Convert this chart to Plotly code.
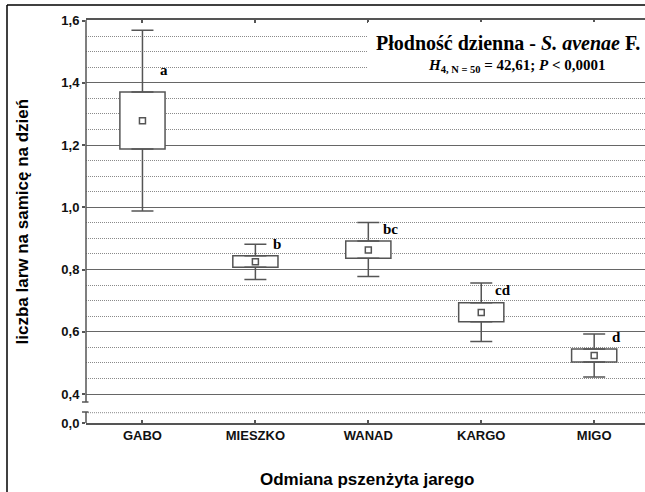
import plotly.graph_objects as go

# ---------------- data ----------------
categories = ["GABO", "MIESZKO", "WANAD", "KARGO", "MIGO"]
minimum = [0.988, 0.768, 0.778, 0.569, 0.455]
q1 = [1.187, 0.807, 0.836, 0.632, 0.503]
median = [1.278, 0.825, 0.863, 0.662, 0.524]
q3 = [1.370, 0.844, 0.892, 0.693, 0.545]
maximum = [1.569, 0.881, 0.951, 0.757, 0.593]
letters = ["a", "b", "bc", "cd", "d"]

ytick_vals = [0.307, 0.4, 0.6, 0.8, 1.0, 1.2, 1.4, 1.6]
ytick_text = ["0,0", "0,4", "0,6", "0,8", "1,0", "1,2", "1,4", "1,6"]
yminor_vals = [0.45, 0.5, 0.55, 0.65, 0.7, 0.75, 0.85, 0.9, 0.95,
               1.05, 1.1, 1.15, 1.25, 1.3, 1.35, 1.45, 1.5, 1.55]

# ---------------- style ----------------
W, H = 645, 492
L, R, T, B = 86, 0, 20, 69
PW, PH = W - L - R, H - T - B
GRAY = "#555555"
SANS = "Liberation Sans"
SERIF = "Liberation Serif"
letter_dy = [12, 2, 2, 3, 2]


def px_x(px):
    return (px - L) / PW


def px_y(py):
    return (H - B - py) / PH


fig = go.Figure()

# boxes (q1..q3)
fig.add_trace(go.Bar(
    x=categories, base=q1, y=[b - a for a, b in zip(q1, q3)],
    width=0.4, marker=dict(color="white", line=dict(color=GRAY, width=1.5)),
    showlegend=False, hoverinfo="skip"))

# upper whiskers
fig.add_trace(go.Scatter(
    x=categories, y=q3, mode="markers",
    marker=dict(size=1, color="rgba(0,0,0,0)"),
    error_y=dict(type="data", symmetric=False,
                 array=[mx - b for b, mx in zip(q3, maximum)],
                 arrayminus=[0] * len(q3),
                 color=GRAY, thickness=1.5, width=11),
    showlegend=False, hoverinfo="skip"))

# lower whiskers
fig.add_trace(go.Scatter(
    x=categories, y=q1, mode="markers",
    marker=dict(size=1, color="rgba(0,0,0,0)"),
    error_y=dict(type="data", symmetric=False,
                 array=[0] * len(q1),
                 arrayminus=[a - mn for a, mn in zip(q1, minimum)],
                 color=GRAY, thickness=1.5, width=11),
    showlegend=False, hoverinfo="skip"))

# medians
fig.add_trace(go.Scatter(
    x=categories, y=median, mode="markers",
    marker=dict(symbol="square-open", size=6, color=GRAY, line=dict(width=1.5)),
    showlegend=False, hoverinfo="skip"))

# letters
for c, q, t, dy in zip(categories, q3, letters, letter_dy):
    fig.add_annotation(x=c, y=q, text="<b>%s</b>" % t, showarrow=False,
                       xanchor="center", yanchor="bottom", xshift=22, yshift=dy,
                       font=dict(family=SERIF, size=15, color="black"))

shapes = []
# broken y axis line
shapes.append(dict(type="line", xref="paper", yref="paper", x0=0, x1=0,
                   y0=px_y(402), y1=1, line=dict(color=GRAY, width=1.5)))
shapes.append(dict(type="line", xref="paper", yref="paper", x0=0, x1=0,
                   y0=0, y1=px_y(412), line=dict(color=GRAY, width=1.5)))
for yy in (402, 412):
    shapes.append(dict(type="line", xref="paper", yref="paper",
                       x0=px_x(82), x1=px_x(88.5), y0=px_y(yy), y1=px_y(yy),
                       line=dict(color=GRAY, width=1.5)))
# dotted line in broken segment
shapes.append(dict(type="line", xref="paper", yref="paper", x0=0, x1=1,
                   y0=px_y(412.7), y1=px_y(412.7), layer="below",
                   line=dict(color="#8a8a8a", width=1, dash="1px,1px")))
# title box
shapes.append(dict(type="rect", xref="paper", yref="paper",
                   x0=px_x(368), x1=1.02, y0=px_y(81), y1=px_y(22),
                   fillcolor="white", line=dict(width=0), layer="above"))
# outer frame (left & top)
shapes.append(dict(type="line", xref="paper", yref="paper",
                   x0=px_x(7), x1=px_x(7), y0=px_y(492), y1=px_y(5),
                   line=dict(color="black", width=1.5)))
shapes.append(dict(type="line", xref="paper", yref="paper",
                   x0=px_x(7), x1=px_x(650), y0=px_y(5), y1=px_y(5),
                   line=dict(color="black", width=1.5)))

fig.update_layout(shapes=shapes)

# title text
fig.add_annotation(xref="paper", yref="paper", x=px_x(508), y=px_y(43),
                   text="<b>Płodność dzienna - <i>S. avenae</i> F.</b>",
                   showarrow=False, xanchor="center", yanchor="middle",
                   font=dict(family=SERIF, size=20, color="black"))
fig.add_annotation(xref="paper", yref="paper", x=px_x(517), y=px_y(66),
                   text="<b><i>H</i><sub>4, N = 50</sub> = 42,61; <i>P</i> &lt; 0,0001</b>",
                   showarrow=False, xanchor="center", yanchor="middle",
                   font=dict(family=SERIF, size=15, color="black"))

# axis titles
fig.add_annotation(xref="paper", yref="paper", x=px_x(22), y=0.5,
                   text="<b>liczba larw na samicę na dzień</b>", textangle=-90,
                   showarrow=False, xanchor="center", yanchor="middle",
                   font=dict(family=SANS, size=17, color="black"))
fig.add_annotation(xref="paper", yref="paper", x=px_x(367), y=px_y(479),
                   text="<b>Odmiana pszenżyta jarego</b>",
                   showarrow=False, xanchor="center", yanchor="middle",
                   font=dict(family=SANS, size=17, color="black"))

fig.update_layout(
    width=W, height=H, margin=dict(l=L, r=R, t=T, b=B, pad=0),
    paper_bgcolor="white", plot_bgcolor="white",
    barmode="overlay", showlegend=False,
    xaxis=dict(type="category", range=[-0.5, 4.45], showgrid=False,
               showline=True, linecolor=GRAY, linewidth=1.5, mirror="ticks",
               ticks="inside", ticklen=3, tickcolor=GRAY, tickwidth=1.5,
               tickfont=dict(family=SANS, size=13, color="#111111"),
               tickprefix="<b>", ticksuffix="</b>", zeroline=False),
    yaxis=dict(range=[0.307, 1.6016], tickmode="array", tickvals=ytick_vals,
               ticktext=["<b>%s</b>" % t for t in ytick_text],
               showline=False, zeroline=False,
               ticks="outside", ticklen=3, tickcolor=GRAY, tickwidth=1.5,
               tickfont=dict(family=SANS, size=13, color="#111111"),
               showgrid=True, gridcolor="#666666", gridwidth=1.3,
               minor=dict(tickmode="array", tickvals=yminor_vals, showgrid=True,
                          gridcolor="#8a8a8a", gridwidth=1, griddash="1px,1px",
                          ticks="")),
)

fig.write_html("out.html")
